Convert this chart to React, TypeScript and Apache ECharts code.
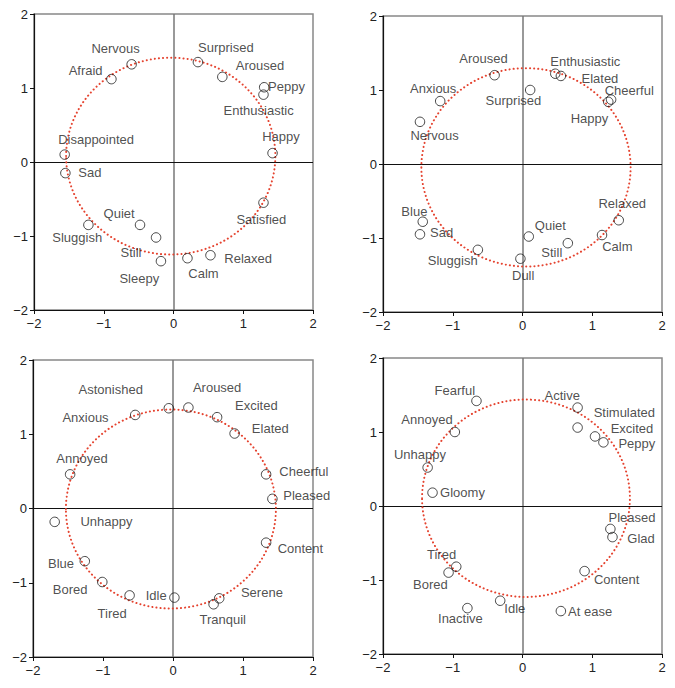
import React, { useEffect, useRef } from "react";
import * as echarts from "echarts";

// ---------- Panel 1 (top-left) ----------
const P1_WORDS = ["Nervous", "Afraid", "Surprised", "Aroused", "Peppy", "Enthusiastic", "Happy", "Disappointed", "Sad", "Satisfied", "Quiet", "Sluggish", "Still", "Sleepy", "Calm", "Relaxed"];
const P1_X = [-0.6, -0.89, 0.35, 0.7, 1.3, 1.29, 1.42, -1.56, -1.55, 1.29, -0.48, -1.22, -0.25, -0.18, 0.2, 0.53];
const P1_Y = [1.32, 1.12, 1.35, 1.15, 1.01, 0.91, 0.12, 0.1, -0.15, -0.55, -0.85, -0.85, -1.02, -1.34, -1.3, -1.26];
const P1_LX = [-0.83, -1.26, 0.75, 1.24, 1.62, 1.22, 1.54, -1.11, -1.2, 1.26, -0.78, -1.38, -0.61, -0.49, 0.43, 1.07];
const P1_LY = [1.54, 1.23, 1.55, 1.31, 1.02, 0.69, 0.35, 0.3, -0.14, -0.78, -0.7, -1.02, -1.22, -1.57, -1.51, -1.3];
const P1_FIT = [-0.04, 0.08, 1.5, 1.33]; // cx, cy, rx, ry

// ---------- Panel 2 (top-right) ----------
const P2_WORDS = ["Aroused", "Enthusiastic", "Elated", "Surprised", "Anxious", "Cheerful", "Happy", "Nervous", "Blue", "Sad", "Sluggish", "Dull", "Quiet", "Still", "Calm", "Relaxed"];
const P2_X = [-0.4, 0.47, 0.55, 0.11, -1.18, 1.27, 1.23, -1.47, -1.43, -1.47, -0.64, -0.03, 0.09, 0.65, 1.14, 1.38];
const P2_Y = [1.2, 1.22, 1.19, 1.0, 0.85, 0.87, 0.84, 0.57, -0.78, -0.95, -1.16, -1.28, -0.98, -1.07, -0.96, -0.76];
const P2_LX = [-0.56, 0.9, 1.11, -0.13, -1.28, 1.53, 0.96, -1.26, -1.55, -1.16, -1.0, 0.01, 0.4, 0.42, 1.36, 1.43];
const P2_LY = [1.43, 1.38, 1.16, 0.86, 1.02, 0.99, 0.62, 0.39, -0.64, -0.92, -1.3, -1.5, -0.83, -1.2, -1.12, -0.53];
const P2_FIT = [0.05, -0.045, 1.5, 1.34];

// ---------- Panel 3 (bottom-left) ----------
const P3_WORDS = ["Anxious", "Astonished", "Aroused", "Excited", "Elated", "Annoyed", "Cheerful", "Pleased", "Unhappy", "Content", "Blue", "Bored", "Tired", "Idle", "Serene", "Tranquil"];
const P3_X = [-0.54, -0.06, 0.22, 0.63, 0.88, -1.47, 1.33, 1.42, -1.69, 1.33, -1.26, -1.01, -0.62, 0.02, 0.66, 0.58];
const P3_Y = [1.26, 1.35, 1.36, 1.23, 1.01, 0.46, 0.46, 0.13, -0.18, -0.46, -0.71, -0.99, -1.17, -1.2, -1.21, -1.29];
const P3_LX = [-1.25, -0.89, 0.63, 1.19, 1.39, -1.3, 1.87, 1.91, -0.95, 1.82, -1.6, -1.47, -0.87, -0.24, 1.27, 0.71];
const P3_LY = [1.23, 1.6, 1.63, 1.39, 1.08, 0.68, 0.5, 0.17, -0.18, -0.54, -0.74, -1.09, -1.41, -1.17, -1.13, -1.49];
const P3_FIT = [-0.03, -0.007, 1.5, 1.34];

// ---------- Panel 4 (bottom-right) ----------
const P4_WORDS = ["Fearful", "Annoyed", "Unhappy", "Gloomy", "Active", "Stimulated", "Excited", "Peppy", "Pleased", "Glad", "Tired", "Bored", "Content", "Idle", "Inactive", "At ease"];
const P4_X = [-0.66, -0.97, -1.36, -1.29, 0.79, 0.79, 1.04, 1.16, 1.26, 1.29, -0.95, -1.06, 0.89, -0.32, -0.79, 0.55];
const P4_Y = [1.42, 1.0, 0.52, 0.18, 1.33, 1.06, 0.94, 0.86, -0.31, -0.42, -0.82, -0.9, -0.88, -1.28, -1.38, -1.42];
const P4_LX = [-0.97, -1.37, -1.47, -0.86, 0.57, 1.46, 1.57, 1.64, 1.57, 1.7, -1.16, -1.32, 1.35, -0.11, -0.89, 0.97];
const P4_LY = [1.56, 1.17, 0.7, 0.18, 1.5, 1.27, 1.05, 0.85, -0.15, -0.44, -0.65, -1.06, -0.99, -1.39, -1.52, -1.42];
const P4_FIT = [0.05, 0.105, 1.49, 1.334];

const AXIS_MIN = -2;
const AXIS_MAX = 2;
const AXIS_STEP = 1;

const PANELS = [
  { words: P1_WORDS, x: P1_X, y: P1_Y, lx: P1_LX, ly: P1_LY, fit: P1_FIT },
  { words: P2_WORDS, x: P2_X, y: P2_Y, lx: P2_LX, ly: P2_LY, fit: P2_FIT },
  { words: P3_WORDS, x: P3_X, y: P3_Y, lx: P3_LX, ly: P3_LY, fit: P3_FIT },
  { words: P4_WORDS, x: P4_X, y: P4_Y, lx: P4_LX, ly: P4_LY, fit: P4_FIT },
];

const GRIDS = [
  { left: 34, top: 14, width: 279, height: 296 },
  { left: 383, top: 16, width: 279, height: 296 },
  { left: 33, top: 360, width: 280, height: 297 },
  { left: 383, top: 358, width: 279, height: 296 },
];

const FONT = '"Liberation Sans", Arial, Helvetica, sans-serif';
const TEXT_COLOR = "#222";

const fmtTick = (v: number) => (v < 0 ? "\u2212" + Math.abs(v) : String(v));

export default function App() {
  const ref = useRef<HTMLDivElement>(null);

  useEffect(() => {
    const chart = echarts.init(ref.current!, null, { renderer: "svg" });

    const axisCommon = {
      type: "value",
      min: AXIS_MIN,
      max: AXIS_MAX,
      interval: AXIS_STEP,
      axisLine: { show: true, onZero: false, lineStyle: { color: "#111", width: 1.2 } },
      axisTick: { show: true, length: 4, lineStyle: { color: "#111" } },
      splitLine: { show: false },
    };

    const option: any = {
      animation: false,
      grid: GRIDS.map((g) => ({
        ...g,
        show: true,
        borderColor: "#888",
        borderWidth: 1.5,
        backgroundColor: "transparent",
      })),
      xAxis: PANELS.map((_, i) => ({
        ...axisCommon,
        gridIndex: i,
        position: "bottom",
        axisLabel: { formatter: fmtTick, fontSize: 13, color: TEXT_COLOR, fontFamily: FONT, margin: 7 },
      })),
      yAxis: PANELS.map((_, i) => ({
        ...axisCommon,
        gridIndex: i,
        position: "left",
        axisLabel: { formatter: fmtTick, fontSize: 13, color: TEXT_COLOR, fontFamily: FONT, margin: 6 },
      })),
      series: PANELS.flatMap((p, i) => [
        {
          type: "scatter",
          xAxisIndex: i,
          yAxisIndex: i,
          silent: true,
          z: 4,
          symbol: "circle",
          symbolSize: 9.5,
          itemStyle: { color: "rgba(0,0,0,0)", borderColor: "#1a1a1a", borderWidth: 1 },
          data: p.x.map((v, j) => [v, p.y[j]]),
          markLine: {
            silent: true,
            symbol: "none",
            label: { show: false },
            z: 2,
            data: [
              { xAxis: 0, lineStyle: { color: "#777", width: 1.5, type: "solid" } },
              { yAxis: 0, lineStyle: { color: "#111", width: 1.2, type: "solid" } },
            ],
          },
        },
        {
          type: "scatter",
          xAxisIndex: i,
          yAxisIndex: i,
          silent: true,
          z: 5,
          symbolSize: 0,
          itemStyle: { color: "rgba(0,0,0,0)" },
          label: {
            show: true,
            position: "inside",
            formatter: "{b}",
            fontSize: 13,
            fontFamily: FONT,
            color: TEXT_COLOR,
          },
          data: p.words.map((w, j) => ({ name: w, value: [p.lx[j], p.ly[j]] })),
        },
      ]),
    };

    chart.setOption(option);

    const graphics = PANELS.map((p, i) => {
      const c = chart.convertToPixel({ gridIndex: i }, [p.fit[0], p.fit[1]]) as number[];
      const e = chart.convertToPixel({ gridIndex: i }, [p.fit[0] + p.fit[2], p.fit[1] + p.fit[3]]) as number[];
      return {
        type: "ellipse",
        silent: true,
        z: 3,
        shape: { cx: c[0], cy: c[1], rx: Math.abs(e[0] - c[0]), ry: Math.abs(c[1] - e[1]) },
        style: { fill: "none", stroke: "#e5432f", lineWidth: 2, lineDash: [0.1, 4], lineCap: "round" },
      };
    });
    chart.setOption({ graphic: graphics });

    return () => chart.dispose();
  }, []);

  return (
    <div
      ref={ref}
      style={{ position: "absolute", left: 0, top: 0, width: 675, height: 688, background: "#fff" }}
    />
  );
}
